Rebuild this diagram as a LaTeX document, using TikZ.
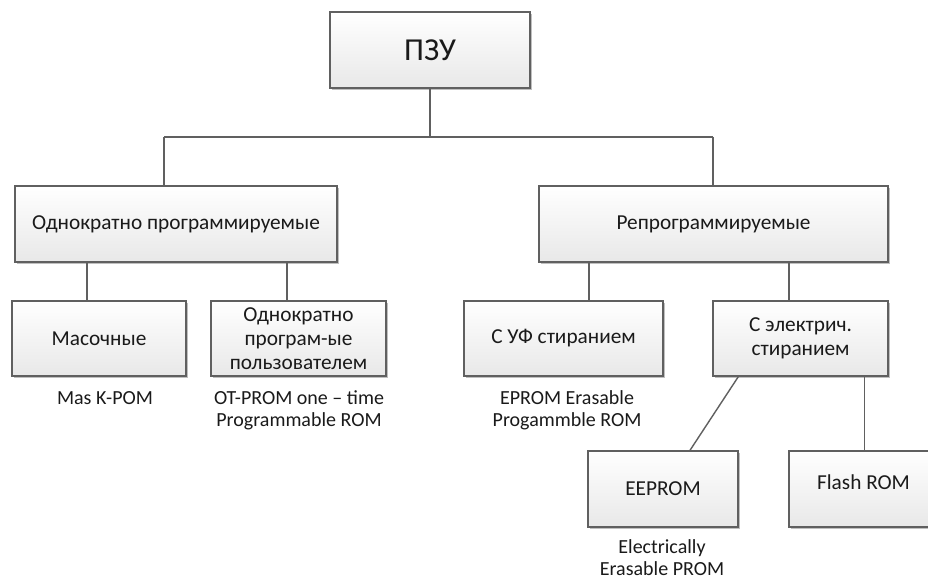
\documentclass[tikz,border=0pt]{standalone}
\usepackage{fontspec}
\setmainfont{Carlito}
\usetikzlibrary{shadows}
\definecolor{edge}{HTML}{606060}
\definecolor{ink}{HTML}{1A1A1A}
\tikzset{
  box/.style={draw=edge, line width=1.4pt, top color=white, bottom color=black!9,
    drop shadow={shadow xshift=1.6pt, shadow yshift=-1.6pt, opacity=0.25, fill=black},
    inner sep=0pt, align=center, text=ink, font=\fontsize{21.3}{24}\selectfont},
  link/.style={draw=edge, line width=1.4pt},
  note/.style={align=center, text=ink, font=\fontsize{20}{22}\selectfont},
}
\begin{document}
\begin{tikzpicture}[x=1pt, y=-1pt]
\useasboundingbox[fill=white] (0,0) rectangle (928,580);
\clip (0,0) rectangle (928,580);

% upper levels
\node[box, minimum width=200pt, minimum height=76pt, font=\fontsize{32}{36}\selectfont] (top) at (430,50) {ПЗУ};
\node[box, minimum width=322pt, minimum height=76pt] (otp) at (176,224) {Однократно программируемые};
\node[box, minimum width=349pt, minimum height=76pt] (rep) at (713.5,224) {Репрограммируемые};

% third level
\node[box, minimum width=174pt, minimum height=75pt] (mask) at (99,338.5) {Масочные};
\node[box, minimum width=175pt, minimum height=75pt] (user) at (298.5,338.5) {Однократно\\програм-ые\\пользователем};
\node[box, minimum width=199pt, minimum height=75pt] (uv) at (563.5,338.5) {С УФ стиранием};
\node[box, minimum width=175pt, minimum height=75pt] (el) at (800.5,338.5) {С электрич.\\стиранием};

% fourth level
\node[box, minimum width=150pt, minimum height=76pt] (ee) at (663,489) {EEPROM};
\node[box, minimum width=149pt, minimum height=76pt, text depth=14pt] (flash) at (863.5,489) {Flash ROM};

% captions
\node[note] (capmask) at (105,398) {Mas K-POM};
\node[note] (capuser) at (299,410) {OT-PROM one – time\\Programmable ROM};
\node[note] (capuv) at (567,410) {EPROM Erasable\\Progammble ROM};
\node[note] (capee) at (662,558) {Electrically\\Erasable PROM};

% tree connectors
\coordinate (busL) at (164,137);
\coordinate (busR) at (713,137);
\draw[link] (busL) -- (busR);
\draw[link] (top.south) -- (top.south |- busL);
\draw[link] (busL) -- (busL |- otp.north);
\draw[link] (busR) -- (busR |- rep.north);

\draw[link] ([xshift=-12pt]mask.north) -- ([xshift=-12pt]mask.north |- otp.south);
\draw[link] ([xshift=-11.5pt]user.north) -- ([xshift=-11.5pt]user.north |- otp.south);
\draw[link] ([xshift=25.5pt]uv.north) -- ([xshift=25.5pt]uv.north |- rep.south);
\draw[link] ([xshift=-11.5pt]el.north) -- ([xshift=-11.5pt]el.north |- rep.south);

\draw[link] ([xshift=26pt]el.south west) -- ([xshift=27pt]ee.north);
\draw[link] ([xshift=-24pt]el.south east) -- ([xshift=-24pt]el.south east |- flash.north);
\end{tikzpicture}
\end{document}
